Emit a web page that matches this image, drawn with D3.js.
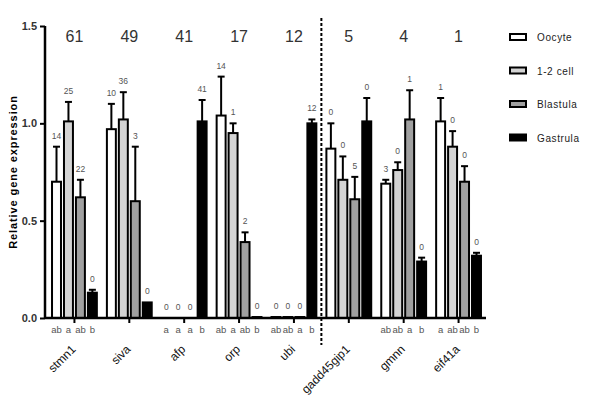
<!DOCTYPE html>
<html>
<head>
<meta charset="utf-8">
<script src="https://cdn.jsdelivr.net/npm/d3@7"></script>
<style>
  body{margin:0;background:#fff;}
  text{font-family:"Liberation Sans",Arial,sans-serif;}
</style>
</head>
<body>
<svg width="599" height="401"></svg>
<script>
const genes=['stmn1','siva','afp','orp','ubi','gadd45gip1','gmnn','eif41a'];
const stages=['Oocyte','1-2 cell','Blastula','Gastrula'];
const colors=['#ffffff','#d4d4d4','#a0a0a0','#000000'];

// mean relative expression per stage (in gene order)
const oocyte  =[0.70,0.97,0,1.04,0.005,0.87,0.69,1.01];
const cell12  =[1.01,1.02,0,0.95,0.005,0.71,0.76,0.88];
const blastula=[0.62,0.60,0,0.39,0.005,0.61,1.02,0.70];
const gastrula=[0.13,0.08,1.01,0.005,1.00,1.01,0.29,0.32];
// upper error
const errOocyte  =[0.18,0.13,0,0.20,0,0.13,0.02,0.12];
const errCell12  =[0.10,0.14,0,0.05,0,0.12,0.04,0.08];
const errBlastula=[0.09,0.28,0,0.05,0,0.115,0.15,0.08];
const errGastrula=[0.015,0,0.11,0,0.02,0.12,0.02,0.015];
// numbers above bars
const nOocyte  =[14,10,0,14,0,0,3,1];
const nCell12  =[25,36,0,1,0,0,0,0];
const nBlastula=[22,3,0,2,0,5,1,0];
const nGastrula=[0,0,41,0,12,0,0,0];
// significance letters under bars
const letters=[['ab','a','ab','b'],[],['a','a','a','b'],['ab','a','ab','b'],
  ['ab','ab','a','b'],[],['ab','ab','a','b'],['a','ab','ab','b']];
const totals=[61,49,41,17,12,5,4,1];
const yTicks=[0,0.5,1.0,1.5];

const means=[oocyte,cell12,blastula,gastrula];
const errs=[errOocyte,errCell12,errBlastula,errGastrula];
const counts=[nOocyte,nCell12,nBlastula,nGastrula];

const svg=d3.select('svg');
const x0=45, x1=486, yBase=318;

const xScale=d3.scaleBand().domain(genes).range([47,486]);
const xSub=d3.scaleBand().domain(stages).range([0,xScale.bandwidth()])
  .paddingInner(0.25).paddingOuter(0.42);
const yScale=d3.scaleLinear().domain([0,1.5]).range([yBase,26]);

const data=[];
genes.forEach((g,gi)=>{
  stages.forEach((s,si)=>{
    data.push({gene:g,stage:s,si:si,value:means[si][gi],err:errs[si][gi],
      n:counts[si][gi],letter:letters[gi][si]});
  });
});

// bars
svg.selectAll('.bar').data(data).enter().append('rect')
  .attr('x',d=>xScale(d.gene)+xSub(d.stage))
  .attr('width',xSub.bandwidth())
  .attr('y',d=>yScale(d.value))
  .attr('height',d=>yBase-yScale(d.value))
  .attr('fill',d=>colors[d.si])
  .attr('stroke','#000')
  .attr('stroke-width',d=>d.value>0?2:0);

// error bars
const eb=data.filter(d=>d.err>0);
const cx=d=>xScale(d.gene)+xSub(d.stage)+xSub.bandwidth()/2;
svg.selectAll('.err').data(eb).enter().append('line')
  .attr('x1',cx).attr('x2',cx)
  .attr('y1',d=>yScale(d.value)).attr('y2',d=>yScale(d.value+d.err))
  .attr('stroke','#000').attr('stroke-width',2);
svg.selectAll('.cap').data(eb).enter().append('line')
  .attr('x1',d=>cx(d)-3.5).attr('x2',d=>cx(d)+3.5)
  .attr('y1',d=>yScale(d.value+d.err)).attr('y2',d=>yScale(d.value+d.err))
  .attr('stroke','#000').attr('stroke-width',2);

// counts above
svg.selectAll('.cnt').data(data).enter().append('text')
  .attr('x',cx)
  .attr('y',d=>yScale(d.value+d.err)-8)
  .attr('text-anchor','middle')
  .attr('font-size',8.5)
  .attr('fill','#555')
  .text(d=>d.n);

// letters below axis
svg.selectAll('.let').data(data.filter(d=>d.letter)).enter().append('text')
  .attr('x',cx).attr('y',333)
  .attr('text-anchor','middle')
  .attr('font-size',9.5)
  .attr('fill','#555')
  .text(d=>d.letter);

// group totals
svg.selectAll('.tot').data(genes).enter().append('text')
  .attr('x',g=>xScale(g)+xScale.bandwidth()/2)
  .attr('y',42)
  .attr('text-anchor','middle')
  .attr('font-size',16)
  .attr('fill','#333')
  .text((g,i)=>totals[i]);

// axes
svg.append('line').attr('x1',x0).attr('x2',x1).attr('y1',yBase).attr('y2',yBase)
  .attr('stroke','#000').attr('stroke-width',2.5);
svg.selectAll('.xt').data(genes).enter().append('line')
  .attr('x1',g=>xScale(g)+xScale.bandwidth()/2).attr('x2',g=>xScale(g)+xScale.bandwidth()/2)
  .attr('y1',yBase).attr('y2',yBase+5)
  .attr('stroke','#000').attr('stroke-width',2);

const yAxis=svg.append('g').attr('transform',`translate(${x0},0)`)
  .call(d3.axisLeft(yScale).tickValues(yTicks).tickFormat(d3.format('.1f')).tickSize(5).tickPadding(3));
yAxis.select('.domain').attr('stroke-width',2.5).attr('d',`M0,${yBase+1}V26`);
yAxis.selectAll('.tick line').attr('stroke-width',2);
yAxis.selectAll('.tick text').attr('font-size',11).attr('font-weight','bold')
  .attr('fill','#333').style('font-family','"Liberation Sans",Arial,sans-serif');

svg.append('text')
  .attr('transform','translate(17,172) rotate(-90)')
  .attr('text-anchor','middle')
  .attr('font-size',11).attr('font-weight','bold')
  .attr('letter-spacing',0.9)
  .text('Relative gene expression');

// gene labels
svg.selectAll('.gl').data(genes).enter().append('text')
  .attr('transform',g=>`translate(${xScale(g)+xScale.bandwidth()/2+2},350) rotate(-45)`)
  .attr('text-anchor','end')
  .attr('font-size',12)
  .attr('fill','#111')
  .text(g=>g);

// dashed separator
const sepX=xScale('gadd45gip1');
svg.append('line').attr('x1',sepX).attr('x2',sepX).attr('y1',18).attr('y2',345)
  .attr('stroke','#000').attr('stroke-width',2).attr('stroke-dasharray','3,2');

// legend
const leg=svg.selectAll('.leg').data(stages).enter().append('g')
  .attr('transform',(s,i)=>`translate(510,${34+i*33.5})`);
leg.append('rect').attr('width',16).attr('height',6)
  .attr('fill',(s,i)=>colors[i]).attr('stroke','#000').attr('stroke-width',2);
leg.append('text').attr('x',27).attr('y',7)
  .attr('font-size',10).attr('letter-spacing',0.6).attr('fill','#222')
  .text(s=>s);
</script>
</body>
</html>
